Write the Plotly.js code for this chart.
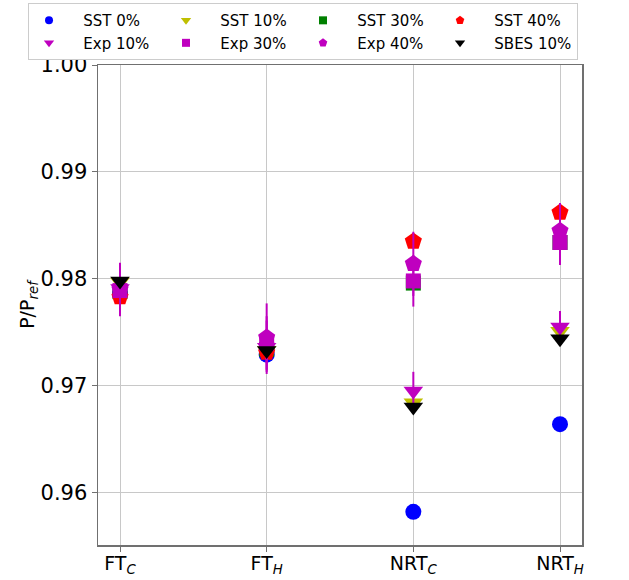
<!DOCTYPE html>
<html>
<head>
<meta charset="utf-8">
<script src="https://cdn.plot.ly/plotly-3.0.1.min.js"></script>
<style>html,body{margin:0;padding:0;background:#fff;}#chart{width:629px;height:580px;}</style>
</head>
<body>
<div id="chart"></div>
<script>
// Categories (x positions 0..3) and tick labels
const categories = [0, 1, 2, 3];
const tickLabels = ["FT<sub><i>C</i></sub>", "FT<sub><i>H</i></sub>", "NRT<sub><i>C</i></sub>", "NRT<sub><i>H</i></sub>"];

// Series values (P/P_ref) for FT_C, FT_H, NRT_C, NRT_H
const sst0   = [0.9786, 0.9729, 0.9582, 0.9664];
const sst10  = [0.9797, 0.9733, 0.9684, 0.9751];
const sst30  = [0.9788, 0.9734, 0.9796, 0.9834];
const sst40  = [0.9783, 0.9731, 0.9835, 0.9862];
const exp10  = [0.9791, 0.9736, 0.9695, 0.9755];
const exp10E = [0.0023, 0.0025, 0.0018, 0.0015];
const exp30  = [0.9789, 0.9740, 0.9798, 0.9834];
const exp30E = [0.0022, 0.0025, 0.0024, 0.0021];
const exp40  = [0.9790, 0.9745, 0.9814, 0.9845];
const exp40E = [0.0025, 0.0032, 0.0030, 0.0026];
const sbes10 = [0.9798, 0.9733, 0.9680, 0.9744];

const MAG = '#bf00bf';
const series = [
  {name: 'SST 0%',   y: sst0,   color: '#0000ff', symbol: 'circle',        size: 16, legSize: 8},
  {name: 'SST 10%',  y: sst10,  color: '#bfbf00', symbol: 'triangle-down', size: 17, legSize: 9},
  {name: 'SST 30%',  y: sst30,  color: '#008000', symbol: 'square',        size: 15, legSize: 8},
  {name: 'SST 40%',  y: sst40,  color: '#ff0000', symbol: 'pentagon',      size: 18, legSize: 9},
  {name: 'Exp 10%',  y: exp10,  color: MAG,       symbol: 'triangle-down', size: 17, legSize: 9, err: exp10E},
  {name: 'Exp 30%',  y: exp30,  color: MAG,       symbol: 'square',        size: 15, legSize: 8, err: exp30E},
  {name: 'Exp 40%',  y: exp40,  color: MAG,       symbol: 'pentagon',      size: 18, legSize: 9, err: exp40E},
  {name: 'SBES 10%', y: sbes10, color: '#000000', symbol: 'triangle-down', size: 17, legSize: 9}
];

const data = [];
series.forEach(s => {
  const t = {
    type: 'scatter', mode: 'markers', name: s.name, showlegend: false,
    x: categories, y: s.y,
    marker: {color: s.color, symbol: s.symbol, size: s.size, line: {width: 0}},
    cliponaxis: false
  };
  if (s.err) t.error_y = {type: 'data', array: s.err, visible: true, color: MAG, thickness: 2, width: 0};
  data.push(t);
});
// legend-only entries with small symbols (as in the reference legend)
series.forEach(s => {
  data.push({
    type: 'scatter', mode: 'markers', name: '\u00a0\u00a0\u00a0' + s.name, showlegend: true,
    x: [null], y: [null],
    marker: {color: s.color, symbol: s.symbol, size: s.legSize, line: {width: 0}}
  });
});

const layout = {
  width: 629, height: 580,
  margin: {l: 98, r: 47, t: 65, b: 35, pad: 0, autoexpand: false},
  paper_bgcolor: '#ffffff', plot_bgcolor: '#ffffff',
  font: {family: 'DejaVu Sans, sans-serif', color: '#000000', size: 20},
  showlegend: true,
  legend: {
    orientation: 'h', x: -0.1446, xanchor: 'left', y: 1.129, yanchor: 'top',
    font: {size: 15, family: 'DejaVu Sans, sans-serif'},
    bordercolor: '#cccccc', borderwidth: 1, bgcolor: '#ffffff',
    entrywidth: 92, entrywidthmode: 'pixels', itemsizing: 'trace',
    traceorder: 'normal'
  },
  xaxis: {
    range: [-0.15, 3.15], tickvals: categories, ticktext: tickLabels,
    showgrid: true, gridcolor: '#c8c8c8', gridwidth: 1,
    showline: true, linecolor: '#707070', linewidth: 1.5, mirror: true,
    ticks: 'outside', ticklen: 5, tickcolor: '#707070',
    zeroline: false, tickfont: {size: 19}, ticklabelstandoff: -4
  },
  yaxis: {
    range: [0.9551, 1.0], tickvals: [0.96, 0.97, 0.98, 0.99, 1.00],
    tickformat: '.2f',
    showgrid: true, gridcolor: '#c8c8c8', gridwidth: 1,
    showline: true, linecolor: '#707070', linewidth: 1.5, mirror: true,
    ticks: 'outside', ticklen: 5, tickcolor: '#707070',
    zeroline: false, tickfont: {size: 21},
    title: {text: 'P/P<sub><i>ref</i></sub>', font: {size: 19}, standoff: 0}
  }
};

Plotly.newPlot('chart', data, layout, {displayModeBar: false, staticPlot: true});
</script>
</body>
</html>
